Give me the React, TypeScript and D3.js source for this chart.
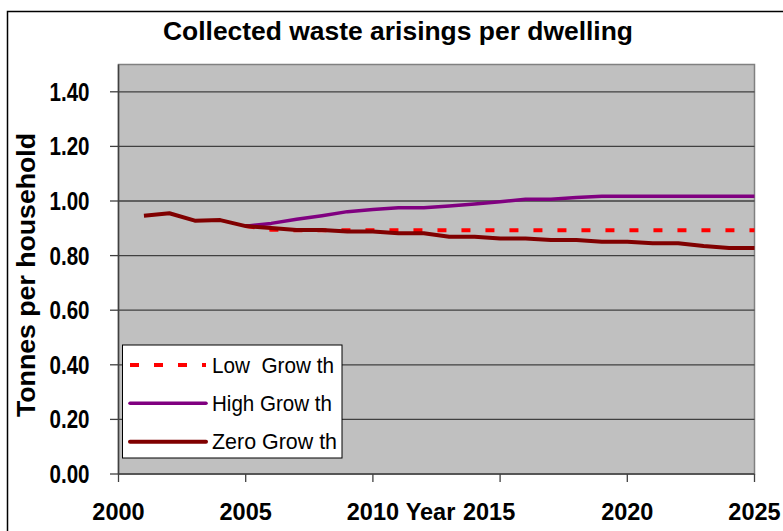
import React from "react";
import * as d3 from "d3";

const years = [2001, 2002, 2003, 2004, 2005, 2006, 2007, 2008, 2009, 2010, 2011, 2012, 2013, 2014, 2015, 2016, 2017, 2018, 2019, 2020, 2021, 2022, 2023, 2024, 2025];
const zeroGrowth = [0.946, 0.955, 0.928, 0.93, 0.908, 0.901, 0.894, 0.894, 0.888, 0.888, 0.882, 0.882, 0.869, 0.869, 0.863, 0.863, 0.857, 0.857, 0.851, 0.851, 0.845, 0.845, 0.835, 0.828, 0.828];
const highGrowth = [null, null, null, null, 0.908, 0.918, 0.933, 0.946, 0.961, 0.969, 0.975, 0.975, 0.982, 0.989, 0.997, 1.006, 1.006, 1.013, 1.017, 1.017, 1.017, 1.017, 1.017, 1.017, 1.017];
const lowGrowth = [null, null, null, null, 0.908, 0.895, 0.893, 0.893, 0.893, 0.893, 0.893, 0.893, 0.893, 0.893, 0.893, 0.893, 0.893, 0.893, 0.893, 0.893, 0.893, 0.893, 0.893, 0.893, 0.893];
const xTicks = [2000, 2005, 2010, 2015, 2020, 2025];
const yTicks = [0, 0.2, 0.4, 0.6, 0.8, 1.0, 1.2, 1.4];
const legendLabels = ["Low  Grow th", "High Grow th", "Zero Grow th"];
const title = "Collected waste arisings per dwelling";

const FONT = "'Liberation Sans', Arial, Helvetica, sans-serif";

export default function App() {
  const x = d3.scaleLinear().domain([2000, 2025]).range([118.5, 754.5]);
  const y = d3.scaleLinear().domain([0, 1.5]).range([474, 64.5]);

  const mk = (vals: (number | null)[]) =>
    d3
      .line<number>()
      .defined((_, i) => vals[i] != null)
      .x((d) => x(d))
      .y((_, i) => y(vals[i] as number))(years) || "";

  const series = [
    { label: legendLabels[0], vals: lowGrowth, color: "#FF0000", width: 4, dash: "9 15" },
    { label: legendLabels[1], vals: highGrowth, color: "#800080", width: 3.5, dash: undefined },
    { label: legendLabels[2], vals: zeroGrowth, color: "#800000", width: 4, dash: undefined },
  ];

  const left = x.range()[0];
  const right = x.range()[1];
  const top = y.range()[1];
  const bottom = y.range()[0];

  const legendRows = [365, 403.3, 441.7];

  return (
    <div style={{ position: "fixed", left: 0, top: 0 }}>
      <svg width={783} height={531} style={{ display: "block", background: "#fff" }} fontFamily={FONT}>
        <rect x={7.5} y={11.5} width={900} height={700} fill="#fff" stroke="#000" strokeWidth={1.5} />
        <text x={398} y={40} textAnchor="middle" fontSize={26} fontWeight="bold" textLength={470} lengthAdjust="spacingAndGlyphs">
          {title}
        </text>

        <rect x={left} y={top} width={right - left} height={bottom - top} fill="#C0C0C0" stroke="#808080" strokeWidth={1.5} />

        {yTicks.filter((t) => t > 0).map((t) => (
          <line key={"g" + t} x1={left} x2={right} y1={y(t)} y2={y(t)} stroke="#404040" strokeWidth={1.3} />
        ))}

        {/* axes */}
        <line x1={left} x2={left} y1={top} y2={bottom} stroke="#404040" strokeWidth={1.5} />
        <line x1={left} x2={right} y1={bottom} y2={bottom} stroke="#404040" strokeWidth={1.5} />
        {yTicks.map((t) => (
          <g key={"y" + t}>
            <line x1={left - 8.5} x2={left} y1={y(t)} y2={y(t)} stroke="#404040" strokeWidth={1.3} />
            <text x={89.5} y={y(t)} dy="0.36em" textAnchor="end" fontSize={25} fontWeight="bold" textLength={40} lengthAdjust="spacingAndGlyphs">
              {d3.format(".2f")(t)}
            </text>
          </g>
        ))}
        {xTicks.map((t) => (
          <g key={"x" + t}>
            <line x1={x(t)} x2={x(t)} y1={bottom} y2={bottom + 8} stroke="#404040" strokeWidth={1.3} />
            <text x={x(t)} dx={t === 2015 ? -11 : 0} y={519.5} textAnchor="middle" fontSize={23.5} fontWeight="bold">
              {t}
            </text>
          </g>
        ))}
        <text x={430.5} y={519.5} textAnchor="middle" fontSize={23.5} fontWeight="bold">
          Year
        </text>
        <text transform="translate(35,275) rotate(-90)" textAnchor="middle" fontSize={25} fontWeight="bold" textLength={284} lengthAdjust="spacingAndGlyphs">
          Tonnes per household
        </text>

        {series.map((s) => (
          <path key={s.label} d={mk(s.vals)} fill="none" stroke={s.color} strokeWidth={s.width} strokeDasharray={s.dash} strokeLinejoin="round" />
        ))}

        {/* legend */}
        <rect x={122.5} y={345} width={219.5} height={113} fill="#fff" stroke="#000" strokeWidth={1} />
        {series.map((s, i) => (
          <g key={"l" + i}>
            <line x1={130} x2={206} y1={legendRows[i]} y2={legendRows[i]} stroke={s.color} strokeWidth={s.width} strokeDasharray={s.dash} strokeLinecap={s.dash ? "butt" : "round"} />
            <text x={212} y={legendRows[i] + 7.5} fontSize={21.5} style={{ whiteSpace: "pre" }} textLength={[122, 120, 125][i]} lengthAdjust="spacingAndGlyphs">
              {s.label}
            </text>
          </g>
        ))}
      </svg>
    </div>
  );
}
